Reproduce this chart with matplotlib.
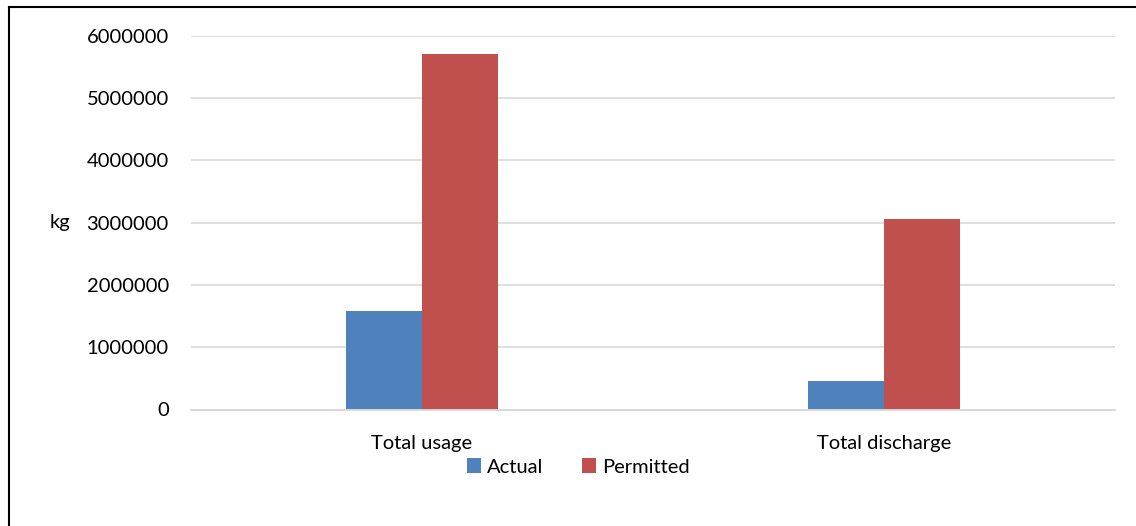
import matplotlib.pyplot as plt
from matplotlib.lines import Line2D
import numpy as np

categories = ["Total usage", "Total discharge"]
actual = [1590000, 450000]
permitted = [5710000, 3060000]
yticks = [0, 1000000, 2000000, 3000000, 4000000, 5000000, 6000000]

plt.rcParams['font.family'] = ['Lato', 'DejaVu Sans']

fig = plt.figure(figsize=(11.36, 5.26), dpi=100)
ax = fig.add_axes([191 / 1136, 1 - 409.5 / 526, 924 / 1136, 373.5 / 526])

x = np.arange(len(categories))
w = 0.165
ax.bar(x - w / 2, actual, w, color="#4F81BD", label="Actual", zorder=3)
ax.bar(x + w / 2, permitted, w, color="#C0504D", label="Permitted", zorder=3)

ax.set_xlim(-0.5, 1.5)
ax.set_ylim(0, 6000000)
ax.set_yticks(yticks)
ax.set_yticklabels([str(v) for v in yticks])
ax.set_xticks(x)
ax.set_xticklabels(categories)
ax.tick_params(axis="y", length=0, pad=16, labelsize=14.5, colors="#000000")
ax.tick_params(axis="x", length=0, pad=18, labelsize=14.5)

ax.grid(axis="y", color="#d9d9d9", linewidth=1.2, zorder=0)
for side in ["top", "right", "left"]:
    ax.spines[side].set_visible(False)
ax.spines["bottom"].set_color("#d9d9d9")
ax.spines["bottom"].set_linewidth(1.4)
ax.spines["bottom"].set_zorder(4)

ax.set_ylabel("kg", rotation=0, fontsize=14.5, ha="center", va="center")
ax.yaxis.set_label_coords(-0.1418, 0.5)

fig.legend(loc="center", bbox_to_anchor=(578 / 1136, 1 - 467 / 526), ncol=2,
           frameon=False, fontsize=14.5, handlelength=0.7, handleheight=0.7,
           handletextpad=0.3, columnspacing=1.9)

# frame edge on the left and top
fig.add_artist(Line2D([9 / 1136, 9 / 1136], [0, 1 - 7 / 526], color="black", linewidth=1.5))
fig.add_artist(Line2D([9 / 1136, 1], [1 - 7 / 526, 1 - 7 / 526], color="black", linewidth=1.5))

fig.savefig("out.png", dpi=100)
